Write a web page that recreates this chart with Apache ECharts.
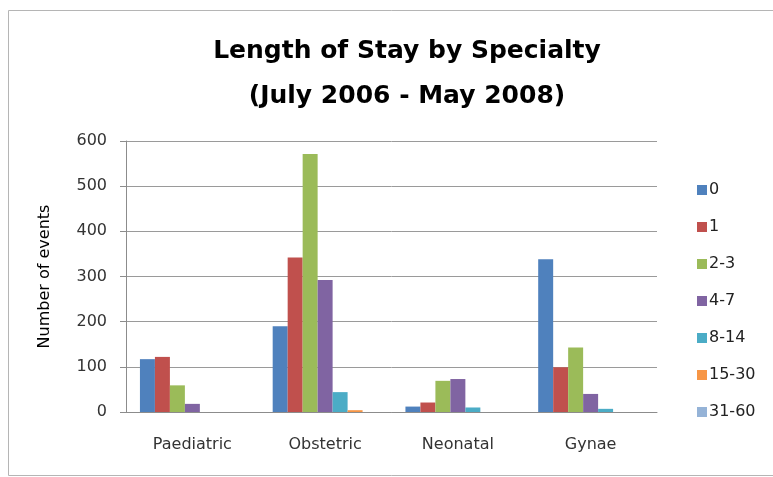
<!DOCTYPE html>
<html lang="en">
<head>
    <meta charset="UTF-8">
    <script src="https://cdnjs.cloudflare.com/ajax/libs/echarts/6.0.0/echarts.min.js"></script>
    <title>Length of Stay by Specialty</title>
    <style>
        html, body { margin: 0; padding: 0; background: #fff; }
    </style>
</head>
<body>

<div id="chart" style="width: 773px;height: 477px"></div>

<script type="text/javascript">
    // specialties on the x axis
    var specialties = ['Paediatric', 'Obstetric', 'Neonatal', 'Gynae']

    // length of stay bands (days)
    var stayBands = ['0', '1', '2-3', '4-7', '8-14', '15-30', '31-60']

    // number of events per band, one value per specialty
    var stay0 = [117, 190, 12, 338]
    var stay1 = [122, 342, 21, 99]
    var stay2to3 = [59, 571, 69, 143]
    var stay4to7 = [18, 292, 73, 40]
    var stay8to14 = [0, 44, 10, 7]
    var stay15to30 = [0, 4, 0, 0]
    var stay31to60 = [0, 0, 0, 0]

    var yTicks = [0, 100, 200, 300, 400, 500, 600]

    var bandValues = [stay0, stay1, stay2to3, stay4to7, stay8to14, stay15to30, stay31to60]
    var colors = ['#4F81BD', '#C0504D', '#9BBB59', '#8064A2', '#4BACC6', '#F79646', '#95B3D7']

    var seriesList = []
    for (var i = 0; i < stayBands.length; i++) {
        seriesList.push({
            name: stayBands[i],
            type: 'bar',
            data: bandValues[i],
            barGap: '0%',
            barCategoryGap: '21%',
            itemStyle: { color: colors[i] }
        })
    }

    var myChart = echarts.init(document.getElementById('chart'));
    var option = {
        animation: false,
        textStyle: { fontFamily: 'DejaVu Sans' },
        graphic: [{
            type: 'rect',
            shape: { x: 8.5, y: 10.5, width: 800, height: 465 },
            style: { fill: 'none', stroke: '#b5b5b5', lineWidth: 1 },
            silent: true
        }],
        title: {
            text: 'Length of Stay by Specialty\n(July 2006 - May 2008)',
            left: 402,
            textAlign: 'center',
            top: 24,
            textStyle: {
                fontFamily: 'DejaVu Sans',
                fontWeight: 'bold',
                fontSize: 25,
                lineHeight: 45,
                color: '#000'
            }
        },
        legend: {
            orient: 'vertical',
            left: 692,
            top: 177,
            itemWidth: 10,
            itemHeight: 10,
            itemGap: 21,
            icon: 'rect',
            data: stayBands,
            textStyle: { fontSize: 16, color: '#222', padding: [0, 0, 0, -3] }
        },
        grid: {
            left: 126,
            right: 116,
            top: 141,
            bottom: 65,
            containLabel: false
        },
        xAxis: {
            type: 'category',
            data: specialties,
            axisLine: { lineStyle: { color: '#8c8c8c' } },
            axisTick: { show: false },
            axisLabel: { fontSize: 16, color: '#333', margin: 25 }
        },
        yAxis: {
            type: 'value',
            min: yTicks[0],
            max: yTicks[yTicks.length - 1],
            interval: 100,
            name: 'Number of events',
            nameLocation: 'middle',
            nameGap: 73,
            nameTextStyle: { fontSize: 16, color: '#000' },
            axisLine: { show: true, lineStyle: { color: '#8c8c8c' } },
            axisTick: { show: true, length: 6, lineStyle: { color: '#8c8c8c' } },
            axisLabel: { fontSize: 16, color: '#333', margin: 19 },
            splitLine: { lineStyle: { color: '#9a9a9a' } }
        },
        series: seriesList
    };
    myChart.setOption(option);
</script>
</body>
</html>
